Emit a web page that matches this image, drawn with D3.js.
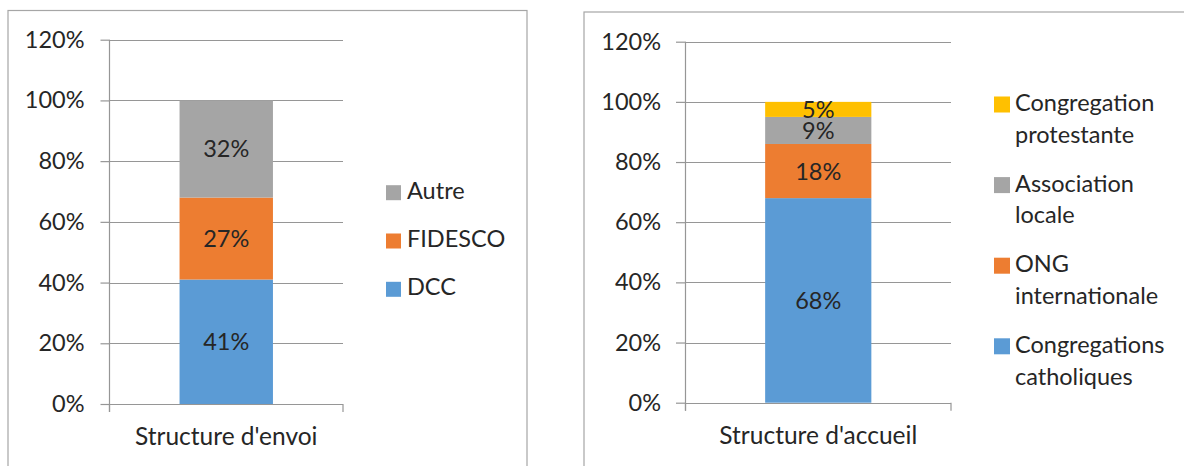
<!DOCTYPE html>
<html><head><meta charset="utf-8">
<script src="https://cdn.jsdelivr.net/npm/d3@7"></script>
<style>
html,body{margin:0;padding:0;background:#fff;}
svg text{font-family:Lato,"Open Sans",sans-serif;fill:#262626;}
</style></head>
<body><svg id="c" width="1184" height="466"></svg>
<script>
// ---- data ----
const tickValues = [0, 20, 40, 60, 80, 100, 120];
const leftCategories = ["Structure d'envoi"];
const leftSeries = ["DCC", "FIDESCO", "Autre"];
const leftValues = [41, 27, 32];
const leftColors = ["#5B9BD5", "#ED7D31", "#A5A5A5"];
const rightCategories = ["Structure d'accueil"];
const rightSeries = ["Congregations catholiques", "ONG internationale", "Association locale", "Congregation protestante"];
const rightValues = [68, 18, 9, 5];
const rightColors = ["#5B9BD5", "#ED7D31", "#A5A5A5", "#FFC000"];

const svg = d3.select("#c");
const FS = 23.5;
const gridColor = "#969696";

function chart(o) {
  const g = svg.append("g");
  // frame
  g.append("rect").attr("x", o.frame[0]).attr("y", o.frame[1])
    .attr("width", o.frame[2]).attr("height", o.frame[3])
    .attr("fill", "none").attr("stroke", "#a6a6a6").attr("stroke-width", 1.2);

  const y = d3.scaleLinear().domain([0, 120]).range([o.y0, o.yTop]);
  const x = d3.scaleBand().domain(o.categories).range([o.x0, o.x1]).paddingInner(0).paddingOuter(0.75);

  // gridlines
  g.append("g").selectAll("line").data(tickValues).join("line")
    .attr("x1", o.x0).attr("x2", o.x1)
    .attr("y1", d => Math.round(y(d)) + 0.5).attr("y2", d => Math.round(y(d)) + 0.5)
    .attr("stroke", gridColor).attr("stroke-width", 1.2);

  // y axis
  const ya = g.append("g").attr("transform", `translate(${o.x0},0)`)
    .call(d3.axisLeft(y).tickValues(tickValues).tickFormat(d => d + "%").tickSizeInner(o.tick).tickSizeOuter(0).tickPadding(o.pad));
  ya.select(".domain").remove();
  ya.selectAll(".tick line").attr("stroke", gridColor).attr("stroke-width", 1.2);
  ya.selectAll(".tick text").attr("font-size", FS).attr("font-family", "Lato").attr("fill", "#262626");
  g.append("line").attr("x1", o.x0).attr("x2", o.x0).attr("y1", y(120)).attr("y2", o.y0 + 8)
    .attr("stroke", gridColor).attr("stroke-width", 1.2);

  // category axis
  const xa = g.append("g").attr("transform", `translate(0,${o.y0})`)
    .call(d3.axisBottom(x).tickSize(0).tickPadding(o.catPad));
  xa.select(".domain").remove();
  xa.selectAll(".tick text").attr("font-size", 24.5).attr("font-family", "Lato").attr("fill", "#262626");
  g.selectAll(".xt").data(x.range()).join("line")
    .attr("x1", d => d).attr("x2", d => d).attr("y1", o.y0).attr("y2", o.y0 + 8)
    .attr("stroke", gridColor).attr("stroke-width", 1.2);

  // stacked bars
  const row = {};
  o.series.forEach((s, i) => row[s] = o.values[i]);
  row.cat = o.categories[0];
  const stack = d3.stack().keys(o.series)([row]);
  const bars = g.append("g");
  stack.forEach((layer, i) => {
    layer.forEach(d => {
      bars.append("rect").attr("x", x(d.data.cat)).attr("width", x.bandwidth())
        .attr("y", y(d[1])).attr("height", y(d[0]) - y(d[1]))
        .attr("fill", o.colors[i]);
    });
  });
  stack.forEach((layer, i) => {
    layer.forEach(d => {
      g.append("text").attr("x", x(d.data.cat) + x.bandwidth() / 2)
        .attr("y", y((d[0] + d[1]) / 2)).attr("dy", "0.36em")
        .attr("text-anchor", "middle").attr("font-size", FS)
        .text(o.values[i] + "%");
    });
  });

  // legend (reversed)
  const lg = g.append("g");
  const items = o.series.map((s, i) => ({ s, c: o.colors[i] })).reverse();
  items.forEach((it, k) => {
    const by = o.leg.y + k * o.leg.step;
    lg.append("rect").attr("x", o.leg.x).attr("y", by - o.leg.sq + 1.5)
      .attr("width", o.leg.sq).attr("height", o.leg.sq).attr("fill", it.c);
    const lines = o.leg.wrap ? it.s.split(" ") : [it.s];
    const t = lg.append("text").attr("x", o.leg.tx).attr("y", by).attr("font-size", FS);
    lines.forEach((ln, j) => t.append("tspan").attr("x", o.leg.tx).attr("y", by + j * o.leg.line).text(ln));
  });
}

chart({
  frame: [8, 10.5, 519, 470],
  categories: leftCategories, series: leftSeries, values: leftValues, colors: leftColors,
  x0: 109.5, x1: 343, y0: 404, yTop: 39.7, tick: 9, pad: 16, catPad: 24,
  leg: { x: 386, sq: 15, tx: 407, y: 198.7, step: 48.3, wrap: false, line: 0 }
});
chart({
  frame: [584, 12, 620, 470],
  categories: rightCategories, series: rightSeries, values: rightValues, colors: rightColors,
  x0: 685.5, x1: 951, y0: 402.7, yTop: 41.7, tick: 9.5, pad: 15, catPad: 24,
  leg: { x: 994, sq: 16, tx: 1015, y: 111, step: 80.6, wrap: true, line: 31.8 }
});
</script></body></html>
